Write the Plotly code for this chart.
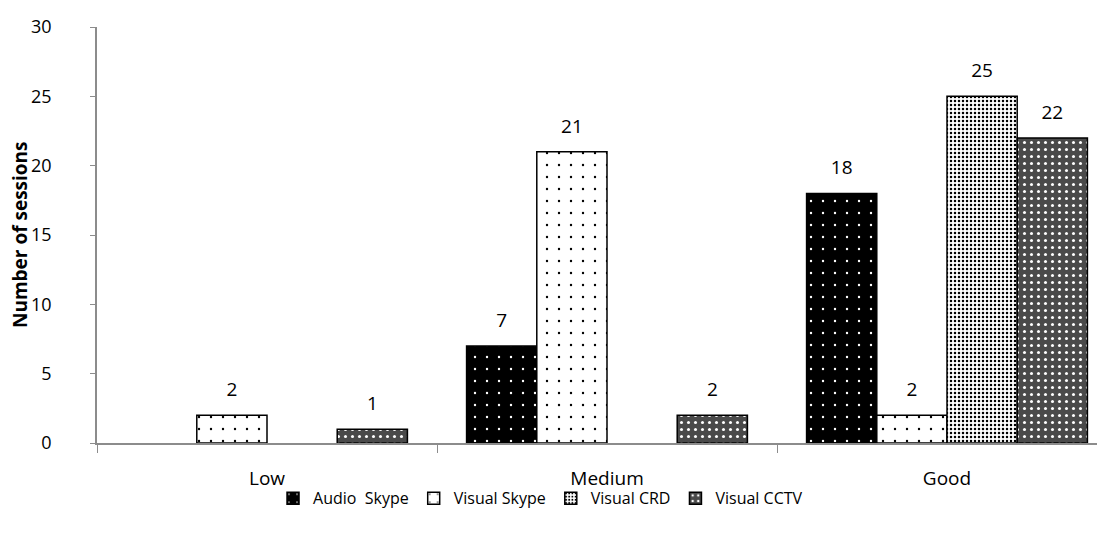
import plotly.graph_objects as go

categories = ["Low", "Medium", "Good"]
series_names = ["Audio\u00a0 Skype", "Visual Skype", "Visual CRD", "Visual CCTV"]
audio_skype = [None, 7, 18]
visual_skype = [2, 21, 2]
visual_crd = [None, None, 25]
visual_cctv = [1, 2, 22]
y_ticks = [0, 5, 10, 15, 20, 25, 30]
y_title = "Number of sessions"

series_values = [audio_skype, visual_skype, visual_crd, visual_cctv]
patterns = [
    dict(shape=".", fgcolor="white", bgcolor="black", size=12, solidity=0.03, fillmode="replace"),
    dict(shape=".", fgcolor="black", bgcolor="white", size=12, solidity=0.03, fillmode="replace"),
    dict(shape=".", fgcolor="black", bgcolor="white", size=4, solidity=0.3, fillmode="replace"),
    dict(shape=".", fgcolor="white", bgcolor="#4a4a4a", size=7, solidity=0.15, fillmode="replace"),
]

FONT = "Open Sans, sans-serif"
fig = go.Figure()
for name, vals, pat in zip(series_names, series_values, patterns):
    fig.add_trace(go.Bar(
        name=name, x=categories, y=vals,
        text=[("" if v is None else "<span style='font-size:19px'>" + str(v) + "</span><br> ") for v in vals],
        textposition="outside", cliponaxis=False, constraintext="none",
        textfont=dict(size=10, color="black", family=FONT),
        marker=dict(color=pat["bgcolor"], pattern=pat, line=dict(color="black", width=1.5)),
    ))

# page body has an 8px margin, so the figure is drawn from (8, 8)
W, H = 1097, 539
L, T, B = 89, 19, 104
cat_w = 340.0
plot_w = W - L
fig.update_layout(
    width=W, height=H,
    margin=dict(l=L, r=0, t=T, b=B),
    paper_bgcolor="white", plot_bgcolor="white",
    barmode="group", bargap=0.174, bargroupgap=0,
    font=dict(family=FONT, size=19, color="black"),
    showlegend=True,
    legend=dict(orientation="h", x=0.44, xanchor="center", y=-0.133, yanchor="middle",
                bgcolor="rgba(0,0,0,0)",
                font=dict(size=16, family=FONT), itemwidth=30, tracegroupgap=0),
    xaxis=dict(range=[-0.5, -0.5 + plot_w / cat_w], showline=True, linecolor="#8c8c8c", linewidth=1.5,
               ticks="outside", tickson="boundaries", ticklen=8, tickcolor="#8c8c8c",
               showgrid=False, tickfont=dict(size=19), ticklabelstandoff=17),
    yaxis=dict(range=[0, 30], tickvals=y_ticks, showline=True, linecolor="#8c8c8c", linewidth=1.5,
               ticks="outside", ticklen=5, tickcolor="#8c8c8c", showgrid=False, zeroline=False,
               tickfont=dict(size=18), ticklabelstandoff=35),
    annotations=[dict(text="<b>" + y_title + "</b>", xref="paper", yref="paper",
                      x=-(97 - 20) / plot_w, y=0.5, xanchor="center", yanchor="middle",
                      borderpad=0, textangle=-90, showarrow=False,
                      font=dict(size=19, family=FONT, color="black"))],
)
fig.write_html("out.html")
